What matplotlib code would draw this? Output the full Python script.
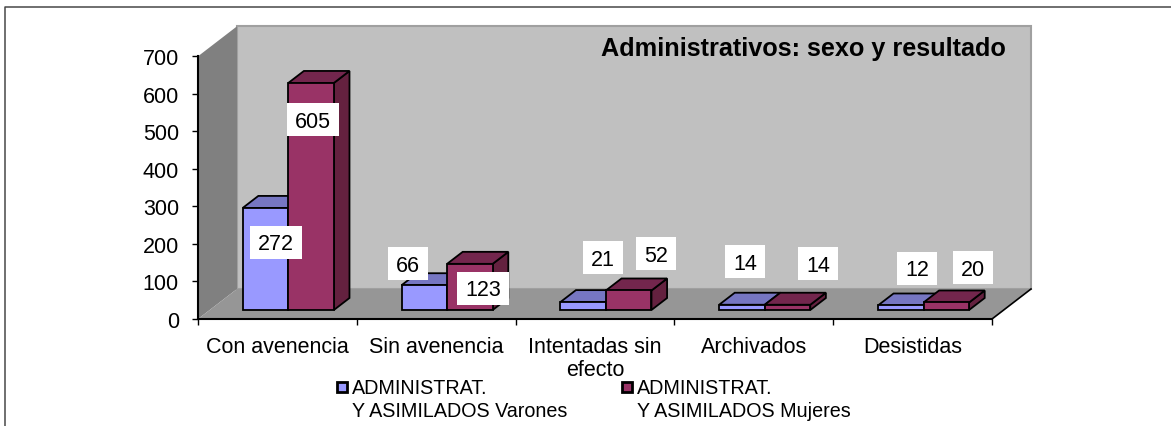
import matplotlib
matplotlib.use("Agg")
import matplotlib.pyplot as plt
from matplotlib.patches import Polygon, Rectangle

plt.rcParams['font.family'] = ['Liberation Sans', 'DejaVu Sans']

categories = ["Con avenencia", "Sin avenencia", "Intentadas sin\nefecto", "Archivados", "Desistidas"]
varones = [272, 66, 21, 14, 12]
mujeres = [605, 123, 52, 14, 20]
series_names = ["ADMINISTRAT.\nY ASIMILADOS Varones", "ADMINISTRAT.\nY ASIMILADOS Mujeres"]
title = "Administrativos: sexo y resultado"
yticks = [0, 100, 200, 300, 400, 500, 600, 700]

W, H = 1171, 427
dpi = 100
fig = plt.figure(figsize=(W / dpi, H / dpi), dpi=dpi, facecolor='white')
L, R, T, B = 198, 992, 57.3, 320
ax = fig.add_axes([L / W, 1 - B / H, (R - L) / W, (B - T) / H], facecolor='none')
ax.set_xlim(0, 5)
ax.set_ylim(0, 700)
FS = 15.5

DX = 39 / ((R - L) / 5)      # depth offset in category units
DY = 30 / ((B - T) / 700)    # depth offset in value units

def p(x, y, d=0.0):
    return (x + d * DX, y + d * DY)

def face(pts, fc, ec='none', lw=0, z=1):
    ax.add_patch(Polygon(pts, closed=True, fc=fc, ec=ec, lw=lw, zorder=z,
                         clip_on=False, joinstyle='miter'))

# walls and floor
face([p(0, 0, 1), p(5, 0, 1), p(5, 700, 1), p(0, 700, 1)], '#C0C0C0', '#A0A0A0', 1.5, 1)
face([p(0, 0), p(0, 0, 1), p(0, 700, 1), p(0, 700)], '#808080', z=1.1)
face([p(0, 0), p(5, 0), p(5, 0, 1), p(0, 0, 1)], '#969696', z=1.2)
ax.plot(*zip(p(5, 0), p(5, 0, 1)), color='black', lw=1.2, zorder=1.3, clip_on=False)

BW = 0.287
D0, D1 = 0.3, 0.7

def bar(x0, v, front, top, side, z):
    x1 = x0 + BW
    ec = '#000000'
    lw = 1.3
    face([p(x1, 0, D0), p(x1, 0, D1), p(x1, v, D1), p(x1, v, D0)], side, ec, lw, z + 0.01)
    face([p(x0, v, D0), p(x1, v, D0), p(x1, v, D1), p(x0, v, D1)], top, ec, lw, z + 0.02)
    face([p(x0, 0, D0), p(x1, 0, D0), p(x1, v, D0), p(x0, v, D0)], front, ec, lw, z + 0.03)

for i, (a, b) in enumerate(zip(varones, mujeres)):
    c = i + 0.495
    bar(c - BW, a, '#9999FF', '#7676C2', '#5F5FA0', 2 + i * 0.1)
    bar(c, b, '#993366', '#73264D', '#64213F', 2.05 + i * 0.1)

# data labels: white boxes placed by hand, centres in figure pixels
centers_a = [(276, 243.5), (408, 264.5), (603, 258.5), (745, 262.5), (917, 269.5)]
centers_b = [(313, 120.5), (483, 289.5), (656, 254.5), (818, 264.5), (973, 268.5)]

def label(px, v):
    w = 52 if v >= 100 else 40
    fig.add_artist(Rectangle(((px[0] - w / 2) / W, 1 - (px[1] + 16.5) / H), w / W, 33 / H,
                             transform=fig.transFigure, fc='white', ec='none', zorder=5))
    fig.text(px[0] / W, 1 - (px[1] - 1) / H, str(v), ha='center', va='center_baseline',
             fontsize=FS, color='black', zorder=6)

for px, v in zip(centers_a, varones):
    label(px, v)
for px, v in zip(centers_b, mujeres):
    label(px, v)

# axes styling
for s in ['top', 'right']:
    ax.spines[s].set_visible(False)
for s in ['left', 'bottom']:
    ax.spines[s].set_linewidth(1.5)
    ax.spines[s].set_zorder(4)
ax.set_yticks(yticks)
ax.set_xticks(range(6))
ax.set_xticklabels([])
ax.tick_params(axis='both', direction='out', length=4.2, width=1, labelsize=FS, color='black')
ax.tick_params(axis='y', pad=9.5)
for i, c in enumerate(categories):
    ax.annotate(c, xy=(i + 0.5, 0), xycoords=('data', 'data'), xytext=(0, -12.5),
                textcoords='offset points', ha='center', va='top', fontsize=FS,
                linespacing=1.13, annotation_clip=False)

fig.text(1006 / W, 1 - 49 / H, title, ha='right', va='center', fontsize=18.2, fontweight='bold', zorder=6)

# legend
for xb, xt, name, col in [(337, 352, series_names[0], '#9999FF'), (622, 637, series_names[1], '#993366')]:
    fig.add_artist(Rectangle((xb / W, 1 - 393 / H), 10 / W, 10 / H, transform=fig.transFigure,
                             fc=col, ec='black', lw=2))
    fig.text(xt / W, 1 - 379 / H, name, ha='left', va='top', fontsize=14.2, linespacing=1.27)

# outer frame: top and left edges only
fig.add_artist(plt.Line2D([5.5 / W, 5.5 / W, 1],
                          [0, 1 - 7.5 / H, 1 - 7.5 / H], color='#484848', lw=1.1, transform=fig.transFigure))

fig.savefig('out.png', dpi=dpi, facecolor='white')
